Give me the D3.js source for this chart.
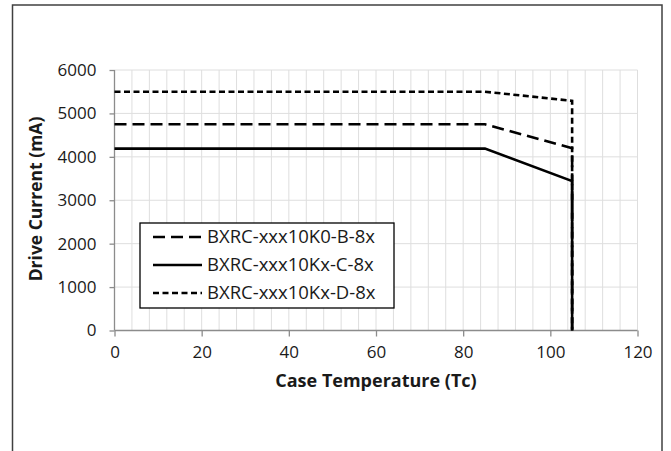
<!DOCTYPE html>
<meta charset="utf-8">
<script src="https://d3js.org/d3.v7.min.js"></script>
<style>
  body { margin: 0; background: #fff; }
  text { font-family: "Open Sans", "Noto Sans", sans-serif; fill: #1a1a1a; }
</style>
<svg id="chart" width="671" height="451"></svg>
<script>
  // chart data
  var temps = [0, 85, 105, 105];
  var currentB = [4750, 4750, 4200, 0];
  var currentC = [4190, 4190, 3440, 0];
  var currentD = [5500, 5500, 5290, 0];
  var seriesNames = ["BXRC-xxx10K0-B-8x", "BXRC-xxx10Kx-C-8x", "BXRC-xxx10Kx-D-8x"];
  var xTicks = [0, 20, 40, 60, 80, 100, 120];
  var yTicks = [0, 1000, 2000, 3000, 4000, 5000, 6000];

  var dashes = ["12,6", null, "6,3.5"];
  var allSeries = [currentB, currentC, currentD];

  var svg = d3.select("#chart");

  // outer frame (runs past the bottom edge)
  svg.append("rect")
    .attr("x", 12.5).attr("y", 5)
    .attr("width", 649.5).attr("height", 470)
    .attr("fill", "none")
    .attr("stroke", "#404040")
    .attr("stroke-width", 1.5);

  var x = d3.scaleLinear().domain([0, 120]).range([114.5, 637.5]);
  var y = d3.scaleLinear().domain([0, 6000]).range([330.5, 70]);

  // minor vertical grid every 4 deg
  svg.append("g").selectAll("line")
    .data(d3.range(4, 121, 4))
    .join("line")
    .attr("x1", d => x(d)).attr("x2", d => x(d))
    .attr("y1", y(6000)).attr("y2", y(0))
    .attr("stroke", "#dedede").attr("stroke-width", 1);

  // horizontal grid
  svg.append("g").selectAll("line")
    .data(yTicks.slice(1))
    .join("line")
    .attr("x1", x(0)).attr("x2", x(120))
    .attr("y1", d => y(d)).attr("y2", d => y(d))
    .attr("stroke", "#dedede").attr("stroke-width", 1);

  // axes
  var xAxis = svg.append("g")
    .attr("transform", "translate(0," + y(0) + ")")
    .call(d3.axisBottom(x).tickValues(xTicks).tickFormat(d3.format("d")).tickSize(6).tickPadding(9));
  var yAxis = svg.append("g")
    .attr("transform", "translate(" + x(0) + ",0)")
    .call(d3.axisLeft(y).tickValues(yTicks).tickFormat(d3.format("d")).tickSize(5).tickPadding(13));

  [xAxis, yAxis].forEach(function (a) {
    a.select(".domain").attr("stroke", "#8c8c8c").attr("stroke-width", 1.3);
    a.selectAll(".tick line").attr("stroke", "#8c8c8c").attr("stroke-width", 1.3);
    a.selectAll(".tick text")
      .style("font-family", "'Open Sans', sans-serif")
      .style("font-size", "17px")
      .attr("fill", "#1a1a1a");
  });
  xAxis.select(".domain").attr("d", "M" + x(0) + ",0H" + x(120));
  yAxis.select(".domain").attr("d", "M0," + y(6000) + "V" + y(0));

  // lines
  var line = d3.line()
    .x((d, i) => x(temps[i]))
    .y(d => y(d));

  svg.append("g").selectAll("path")
    .data(allSeries)
    .join("path")
    .attr("d", line)
    .attr("fill", "none")
    .attr("stroke", "#000")
    .attr("stroke-width", 2.6)
    .attr("stroke-dasharray", (d, i) => dashes[i]);

  // axis titles
  svg.append("text")
    .attr("x", x(60)).attr("y", 387)
    .attr("text-anchor", "middle")
    .style("font-size", "18px").style("font-weight", "bold")
    .text("Case Temperature (Tc)");

  svg.append("text")
    .attr("transform", "translate(42," + 199 + ") rotate(-90)")
    .attr("text-anchor", "middle")
    .style("font-size", "17.5px").style("font-weight", "bold")
    .text("Drive Current (mA)");

  // legend
  var legend = svg.append("g");
  legend.append("rect")
    .attr("x", 140).attr("y", 223)
    .attr("width", 254).attr("height", 85)
    .attr("fill", "#fff")
    .attr("stroke", "#000").attr("stroke-width", 1.3);

  var rows = legend.selectAll("g.row")
    .data(seriesNames)
    .join("g")
    .attr("class", "row")
    .attr("transform", (d, i) => "translate(0," + (237 + i * 28) + ")");

  rows.append("line")
    .attr("x1", 153).attr("x2", 202)
    .attr("y1", 0).attr("y2", 0)
    .attr("stroke", "#000").attr("stroke-width", 2.6)
    .attr("stroke-dasharray", (d, i) => dashes[i]);

  rows.append("text")
    .attr("x", 207).attr("dy", "0.35em")
    .style("font-size", "18.5px")
    .text(d => d);
</script>
